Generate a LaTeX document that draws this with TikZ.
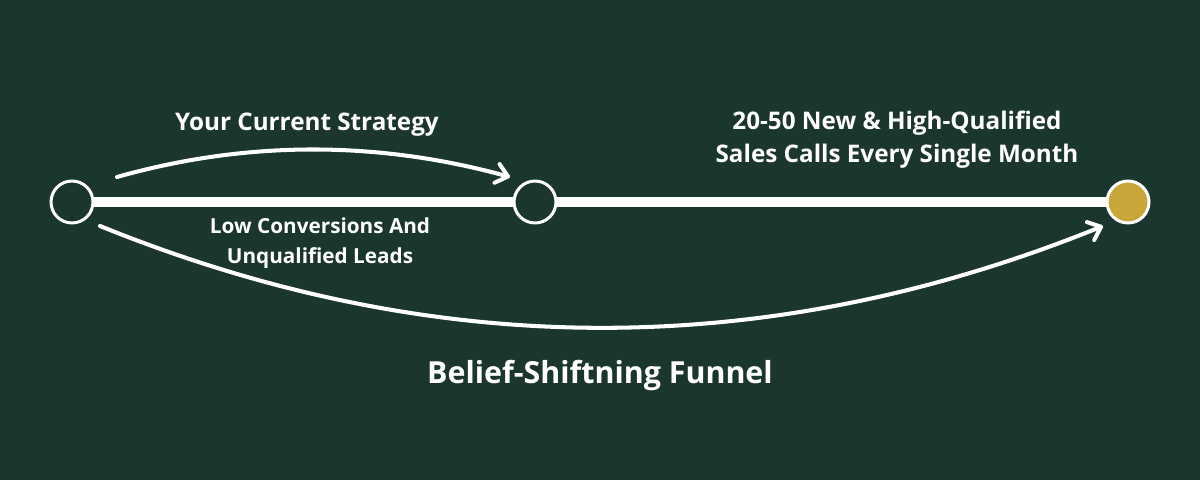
\documentclass[tikz,border=0pt]{standalone}
\usepackage{fontspec}
\setmainfont{Open Sans}
\usetikzlibrary{arrows.meta,positioning}
\definecolor{funnelbg}{RGB}{27,54,47}
\definecolor{funnelgold}{RGB}{201,166,58}
\tikzset{
  ring/.style={circle,draw=white,line width=1.7pt,fill=funnelbg,minimum size=0.84cm,inner sep=0pt},
  goalring/.style={ring,fill=funnelgold},
  track/.style={white,line width=5.7pt},
  jump/.style={white,line width=2.3pt,line cap=round,-{Straight Barb[length=6.5pt,width=11pt,round]}},
  label/.style={text=white,font=\bfseries\fontsize{13.8}{18.7}\selectfont,align=center},
  smalllabel/.style={text=white,font=\bfseries\fontsize{11.8}{17}\selectfont,align=center},
  biglabel/.style={text=white,font=\bfseries\fontsize{17.3}{20}\selectfont}
}
\begin{document}
\begin{tikzpicture}[x=0.02cm,y=-0.02cm]
\fill[funnelbg] (0,0) rectangle (1200,480);
\useasboundingbox (0,0) rectangle (1200,480);
% stages
\node[ring] (start) at (72,202) {};
\node[goalring] (goal) at (1128,202) {};
\draw[track] (start) -- (goal);
\node[ring] (mid) at (535,202) {};
% arrow ends
\coordinate (cs-from) at ([shift={(45,-25)}]start);
\coordinate (cs-to) at ([shift={(-25,-25)}]mid);
\coordinate (bf-from) at ([shift={(28,24)}]start);
\coordinate (bf-to) at ([shift={(-25,24)}]goal);
\draw[jump] (cs-from) .. controls (248,140) and (379,141) .. (cs-to);
\draw[jump] (bf-from) .. controls (433,361) and (767,362) .. (bf-to);
% labels
\node[label] (current) at (307,125) {Your Current Strategy};
\node[label] (result) at (897,140) {20-50 New \& High-Qualified\\Sales Calls Every Single Month};
\node[smalllabel] (low) at (320,243) {Low Conversions And\\Unqualified Leads};
\node[biglabel] (funnel) at (600,376) {Belief-Shiftning Funnel};
\end{tikzpicture}
\end{document}
